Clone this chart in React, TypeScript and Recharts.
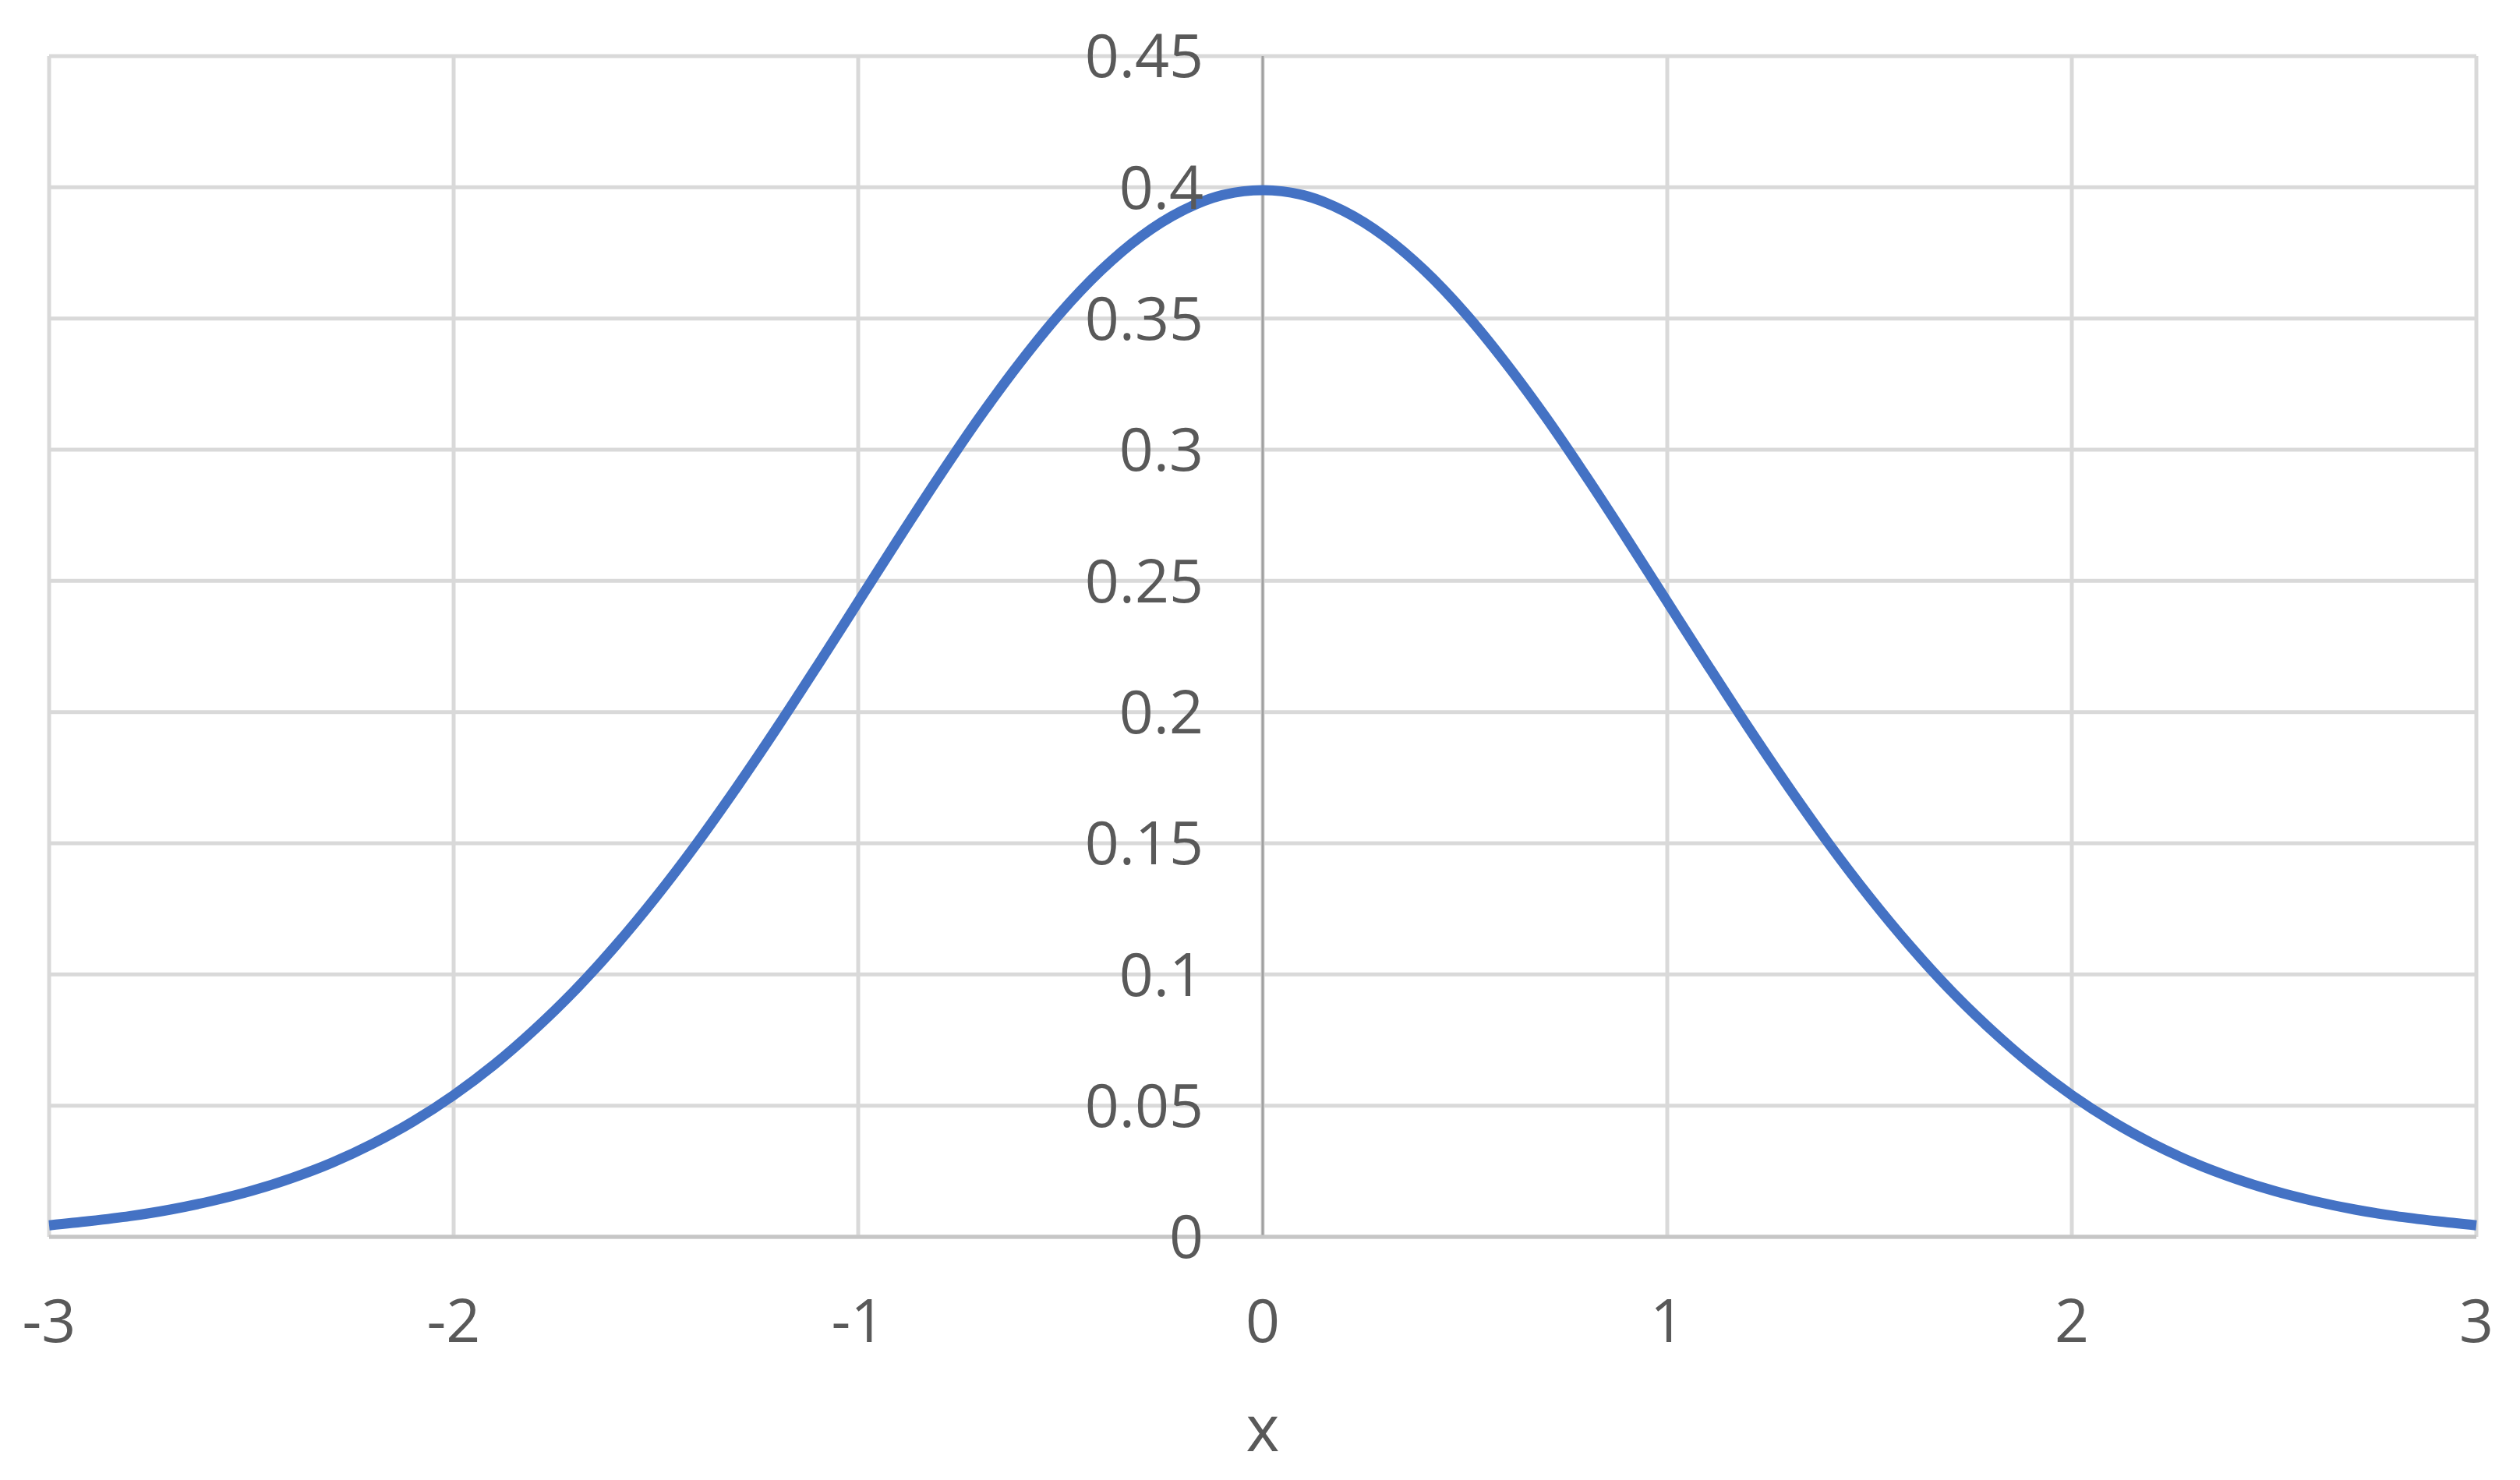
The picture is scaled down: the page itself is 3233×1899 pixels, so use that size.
import React from "react";
import {
  LineChart,
  Line,
  XAxis,
  YAxis,
  CartesianGrid,
  ReferenceLine,
  ReferenceDot,
  Label,
} from "recharts";

const xValues = [
  -3.0, -2.9, -2.8, -2.7, -2.6, -2.5, -2.4, -2.3, -2.2, -2.1,
  -2.0, -1.9, -1.8, -1.7, -1.6, -1.5, -1.4, -1.3, -1.2, -1.1,
  -1.0, -0.9, -0.8, -0.7, -0.6, -0.5, -0.4, -0.3, -0.2, -0.1,
  0.0, 0.1, 0.2, 0.3, 0.4, 0.5, 0.6, 0.7, 0.8, 0.9,
  1.0, 1.1, 1.2, 1.3, 1.4, 1.5, 1.6, 1.7, 1.8, 1.9,
  2.0, 2.1, 2.2, 2.3, 2.4, 2.5, 2.6, 2.7, 2.8, 2.9, 3.0,
];

const yValues = [
  0.0044, 0.006, 0.0079, 0.0104, 0.0136, 0.0175, 0.0224, 0.0283, 0.0355, 0.044,
  0.054, 0.0656, 0.079, 0.094, 0.1109, 0.1295, 0.1497, 0.1714, 0.1942, 0.2179,
  0.242, 0.2661, 0.2897, 0.3123, 0.3332, 0.3521, 0.3683, 0.3814, 0.391, 0.397,
  0.3989, 0.397, 0.391, 0.3814, 0.3683, 0.3521, 0.3332, 0.3123, 0.2897, 0.2661,
  0.242, 0.2179, 0.1942, 0.1714, 0.1497, 0.1295, 0.1109, 0.094, 0.079, 0.0656,
  0.054, 0.044, 0.0355, 0.0283, 0.0224, 0.0175, 0.0136, 0.0104, 0.0079, 0.006, 0.0044,
];

const xTicks = [-3, -2, -1, 0, 1, 2, 3];
const yTicks = [0, 0.05, 0.1, 0.15, 0.2, 0.25, 0.3, 0.35, 0.4, 0.45];
const xAxisTitle = "x";

const data = xValues.map((x, i) => ({ x, y: yValues[i] }));

const FONT = "'Open Sans', 'Liberation Sans', sans-serif";
const TEXT = "#595959";

export default function App() {
  return (
    <div style={{ width: 3233, height: 1899, background: "#fff" }}>
      <style>{`body{margin:0;background:#fff}`}</style>
      <LineChart
        width={3233}
        height={1899}
        data={data}
        margin={{ top: 72, right: 56, bottom: 0, left: 63 }}
      >
        <CartesianGrid stroke="#d9d9d9" strokeWidth={5} />
        <XAxis
          dataKey="x"
          type="number"
          domain={[-3, 3]}
          ticks={xTicks}
          height={312}
          tickSize={0}
          tickMargin={80}
          axisLine={{ stroke: "#c6c6c6", strokeWidth: 5 }}
          tick={{ fill: TEXT, fontSize: 77, fontFamily: FONT }}
          interval={0}
        >
          <Label
            value={xAxisTitle}
            position="insideBottom"
            offset={37}
            fill={TEXT}
            fontSize={82}
            fontFamily={FONT}
          />
        </XAxis>
        <YAxis type="number" domain={[0, 0.45]} ticks={yTicks} hide />
        <ReferenceLine x={0} stroke="#a0a0a0" strokeWidth={3} />
        {yTicks.map((v) => (
          <ReferenceDot
            key={v}
            x={0}
            y={v}
            r={0}
            fill="none"
            stroke="none"
            ifOverflow="visible"
            label={{
              value: String(v),
              position: "left",
              offset: 76,
              fill: TEXT,
              fontSize: 77,
              fontFamily: FONT,
            }}
          />
        ))}
        <Line
          type="monotone"
          dataKey="y"
          stroke="#4472C4"
          strokeWidth={13}
          dot={false}
          isAnimationActive={false}
        />
      </LineChart>
    </div>
  );
}
